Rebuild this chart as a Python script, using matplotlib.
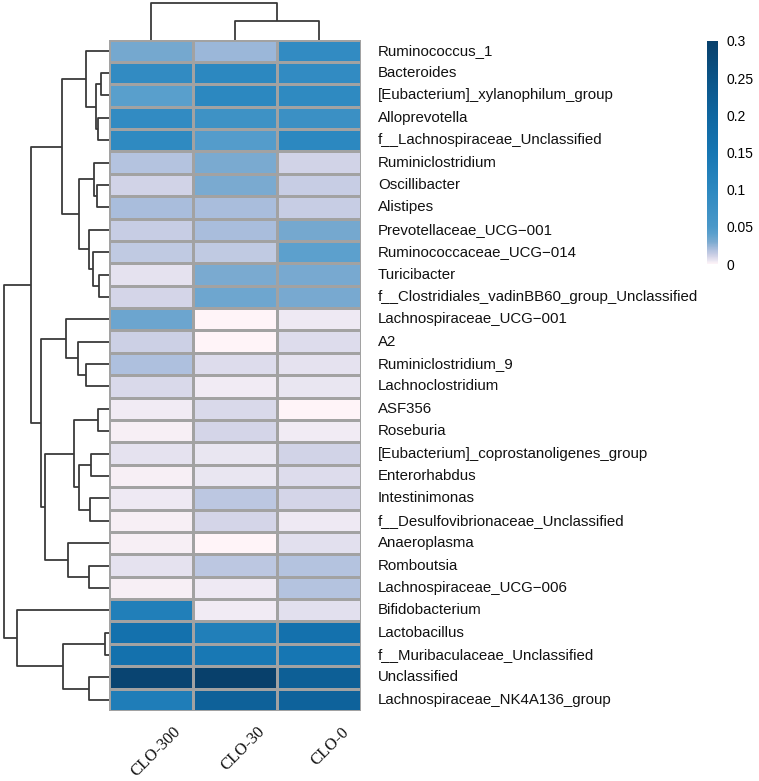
import matplotlib
matplotlib.use("Agg")
import matplotlib.pyplot as plt
import numpy as np
from matplotlib.colors import LinearSegmentedColormap, Normalize

# ---------------- data ----------------
taxa = ["Ruminococcus_1", "Bacteroides", "[Eubacterium]_xylanophilum_group", "Alloprevotella",
        "f__Lachnospiraceae_Unclassified", "Ruminiclostridium", "Oscillibacter", "Alistipes",
        "Prevotellaceae_UCG\u2212001", "Ruminococcaceae_UCG\u2212014", "Turicibacter",
        "f__Clostridiales_vadinBB60_group_Unclassified", "Lachnospiraceae_UCG\u2212001", "A2",
        "Ruminiclostridium_9", "Lachnoclostridium", "ASF356", "Roseburia",
        "[Eubacterium]_coprostanoligenes_group", "Enterorhabdus", "Intestinimonas",
        "f__Desulfovibrionaceae_Unclassified", "Anaeroplasma", "Romboutsia",
        "Lachnospiraceae_UCG\u2212006", "Bifidobacterium", "Lactobacillus",
        "f__Muribaculaceae_Unclassified", "Unclassified", "Lachnospiraceae_NK4A136_group"]
groups = ["CLO-300", "CLO-30", "CLO-0"]

clo300 = [0.032, 0.09, 0.042, 0.09, 0.095, 0.018, 0.011, 0.02, 0.013, 0.015,
          0.006, 0.01, 0.035, 0.012, 0.019, 0.009, 0.003, 0.002, 0.006, 0.002,
          0.004, 0.002, 0.002, 0.006, 0.002, 0.125, 0.165, 0.165, 0.29, 0.13]
clo30 = [0.023, 0.1, 0.1, 0.07, 0.045, 0.03, 0.03, 0.02, 0.02, 0.015,
         0.03, 0.034, 0.0, 0.0005, 0.008, 0.003, 0.009, 0.01, 0.005, 0.005,
         0.016, 0.01, 0.0004, 0.016, 0.004, 0.003, 0.125, 0.145, 0.3, 0.215]
clo0 = [0.09, 0.09, 0.095, 0.075, 0.1, 0.011, 0.013, 0.013, 0.032, 0.04,
        0.031, 0.031, 0.004, 0.008, 0.006, 0.005, 0.0005, 0.003, 0.011, 0.008,
        0.01, 0.004, 0.007, 0.018, 0.018, 0.007, 0.165, 0.15, 0.22, 0.21]

# row dendrogram merges: (child_a, child_b, height); leaves 0..29, new nodes 30..
row_merges = [(1, 2, 8.0), (3, 4, 11.5), (30, 31, 13.0), (0, 32, 23.0),
              (6, 7, 12.0), (5, 34, 14.7), (10, 11, 9.7), (9, 36, 16.3), (8, 37, 19.7),
              (35, 38, 30.3), (33, 39, 47.0),
              (14, 15, 23.0), (13, 41, 30.7), (12, 42, 42.7),
              (16, 17, 11.3), (18, 19, 18.0), (20, 21, 18.7), (45, 46, 30.3), (44, 47, 34.7),
              (23, 24, 19.7), (22, 49, 41.3), (48, 50, 63.7), (43, 51, 68.0),
              (40, 52, 77.7),
              (26, 27, 4.0), (28, 29, 20.3), (54, 55, 46.3), (25, 56, 92.0),
              (53, 57, 105.3)]
# column dendrogram merges
col_merges = [(1, 2, 18.5), (0, 3, 36.8)]

# ---------------- style ----------------
W, H = 759, 781
fig = plt.figure(figsize=(W / 100, H / 100), dpi=100)

def ax_px(x0, y0, x1, y1):
    return fig.add_axes([x0 / W, 1 - y1 / H, (x1 - x0) / W, (y1 - y0) / H])

stops = [(0.000, "#FFF4F8"), (0.004, "#ECE8F2"), (0.008, "#DCDBEB"), (0.012, "#CBCFE5"),
         (0.016, "#BBC7E1"), (0.020, "#A9BDDC"), (0.030, "#7AAAD0"), (0.040, "#5CA0CD"),
         (0.050, "#4A98C9"), (0.100, "#2C88C0"), (0.150, "#1676B3"), (0.200, "#0F66A0"),
         (0.250, "#0B5487"), (0.300, "#08406B")]
vmax = 0.3
cmap = LinearSegmentedColormap.from_list("hm", [(v / vmax, c) for v, c in stops], N=512)
norm = Normalize(0, vmax)

hx0, hy0, hx1, hy1 = 109, 39.5, 361, 711
data = np.array([clo300, clo30, clo0]).T
nr, nc = data.shape

ax = ax_px(hx0, hy0, hx1, hy1)
mesh = ax.pcolormesh(np.arange(nc + 1), np.arange(nr + 1), data, cmap=cmap, norm=norm,
                     edgecolors="#A2A2A2", linewidth=0.8)
ax.set_xlim(0, nc)
ax.set_ylim(nr, 0)
ax.set_xticks([])
ax.set_yticks([])
for s in ax.spines.values():
    s.set_visible(False)

for i, t in enumerate(taxa):
    ax.text(nc + 0.2, i + 0.5, t, ha="left", va="center", fontsize=10.8,
            family="Liberation Sans", color="#111111")
for j, g in enumerate(groups):
    ax.annotate(g, xy=(j + 0.5, nr), xytext=(22, -13), textcoords="offset pixels",
                rotation=45, ha="right", va="top", rotation_mode="anchor",
                fontsize=12, family="Liberation Serif", color="#111111",
                annotation_clip=False)

def dendro_coords(merges, n):
    pos = {i: i + 0.5 for i in range(n)}
    hgt = {i: 0.0 for i in range(n)}
    segs = []
    for k, (a, b, h) in enumerate(merges):
        node = n + k
        pa, pb = pos[a], pos[b]
        segs.append(([hgt[a], h, h, hgt[b]], [pa, pa, pb, pb]))
        pos[node] = (pa + pb) / 2
        hgt[node] = h
    return segs

lc = "#3A3A3A"
lw = 1.3
# row dendrogram
axr = ax_px(0, hy0, hx0, hy1)
for hs, ps in dendro_coords(row_merges, nr):
    axr.plot(hs, ps, color=lc, lw=lw, solid_capstyle="butt")
axr.set_xlim(hx0, 0)
axr.set_ylim(nr, 0)
axr.axis("off")

# column dendrogram
axc = ax_px(hx0, 0, hx1, hy0)
for hs, ps in dendro_coords(col_merges, nc):
    axc.plot(ps, hs, color=lc, lw=lw, solid_capstyle="butt")
axc.set_xlim(0, nc)
axc.set_ylim(0, hy0)
axc.axis("off")

# colorbar
cax = ax_px(707, 41, 718, 264)
cb = fig.colorbar(mesh, cax=cax)
cb.outline.set_visible(False)
ticks = [0, 0.05, 0.1, 0.15, 0.2, 0.25, 0.3]
cb.set_ticks(ticks)
cb.set_ticklabels(["0", "0.05", "0.1", "0.15", "0.2", "0.25", "0.3"])
cax.tick_params(length=0, pad=6, labelsize=10)
for lab in cax.get_yticklabels():
    lab.set_family("Liberation Sans")

fig.savefig("out.png", dpi=100)
